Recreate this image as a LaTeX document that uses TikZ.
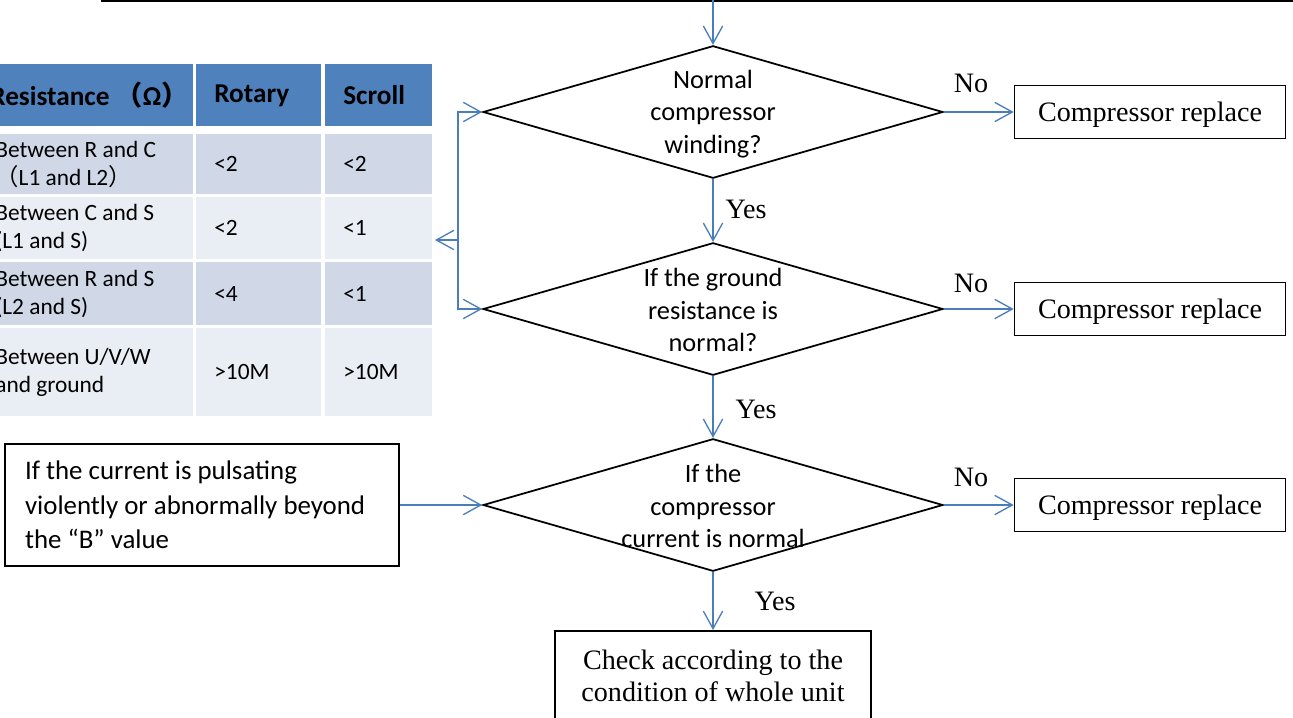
\documentclass[tikz,border=0pt]{standalone}
\usepackage{fontspec}
\setmainfont{Liberation Serif}
\newfontfamily\calibri{Carlito}
\newfontfamily\cjk[Kerning=Off]{Noto Sans CJK SC}
\usepackage{tikz}
\usetikzlibrary{shapes.geometric, arrows.meta, positioning}
\definecolor{flowblue}{RGB}{74,126,187}
\definecolor{headblue}{RGB}{79,129,189}
\definecolor{rowdark}{RGB}{208,216,232}
\definecolor{rowlight}{RGB}{233,237,244}

\begin{document}
\begin{tikzpicture}[x=0.02cm, y=-0.02cm,
  decision/.style={diamond, draw=black, line width=1pt, minimum width=9.2cm, minimum height=2.65cm, inner sep=0pt},
  asktext/.style={align=center, inner sep=0pt, font=\calibri\fontsize{15}{18.6}\selectfont},
  block/.style={rectangle, draw=black, line width=1pt, align=center, font=\fontsize{16}{18.7}\selectfont},
  note/.style={rectangle, draw=black, line width=1pt, align=flush left, inner xsep=0.4cm, text width=7.08cm, minimum height=2.44cm, font=\calibri\fontsize{15.3}{19.6}\selectfont},
  lab/.style={inner sep=0pt, font=\fontsize{16}{18}\selectfont},
  line/.style={draw=flowblue, line width=0.75pt, -{Straight Barb[length=10pt, width=11pt]}},
  cell/.style={anchor=north west, inner xsep=0.36cm, inner ysep=0pt, align=flush left, font=\calibri\fontsize{13.3}{15.8}\selectfont},
  head/.style={cell, fill=headblue, minimum height=1.24cm, font=\calibri\bfseries\fontsize{15.5}{17}\selectfont},
  colA/.style={text width=3.6cm},
  colB/.style={text width=1.78cm},
  colC/.style={text width=1.42cm}]

  \useasboundingbox (0,0) rectangle (1293,717);
  \clip (0,0) rectangle (1293,717);

  % frame edge above and entry point
  \draw[line width=2.4pt] (101,0) -- (1300,0);
  \coordinate (entry) at (713,0);

  % resistance table
  \node[head, colA] (hres) at (-23,64) {\mbox{\hspace{-0.1cm}Resistance {\cjk （}Ω{\cjk ）}}};
  \node[head, colB] (hrot) at (196,64) {Rotary};
  \node[head, colC] (hscr) at (325,64) {Scroll};

  \node[cell, colA, fill=rowdark, minimum height=1.2cm] (rc) at (-23,134) {Between R and C\\{\cjk （}L1 and L2{\cjk ）}};
  \node[cell, colB, fill=rowdark, minimum height=1.2cm] (rcrot) at (196,134) {<2};
  \node[cell, colC, fill=rowdark, minimum height=1.2cm] (rcscr) at (325,134) {<2};

  \node[cell, colA, fill=rowlight, minimum height=1.24cm] (cs) at (-23,197) {Between C and S\\(L1 and S)};
  \node[cell, colB, fill=rowlight, minimum height=1.24cm] (csrot) at (196,197) {<2};
  \node[cell, colC, fill=rowlight, minimum height=1.24cm] (csscr) at (325,197) {<1};

  \node[cell, colA, fill=rowdark, minimum height=1.26cm] (rs) at (-23,262) {Between R and S\\(L2 and S)};
  \node[cell, colB, fill=rowdark, minimum height=1.26cm] (rsrot) at (196,262) {<4};
  \node[cell, colC, fill=rowdark, minimum height=1.26cm] (rsscr) at (325,262) {<1};

  \node[cell, colA, fill=rowlight, minimum height=1.76cm] (uvw) at (-23,328) {Between U/V/W\\and ground};
  \node[cell, colB, fill=rowlight, minimum height=1.76cm] (uvwrot) at (196,328) {>10M};
  \node[cell, colC, fill=rowlight, minimum height=1.76cm] (uvwscr) at (325,328) {>10M};

  % decisions
  \node[decision] (wind) at (713,112) {};
  \node[asktext] (windq) at (713,114) {Normal\\compressor\\winding?};
  \node[decision] (ground) at (713,309) {};
  \node[asktext] (groundq) at (713,310) {If the ground\\resistance is\\normal?};
  \node[decision] (curr) at (713,505) {};
  \node[asktext] (currq) at (713,506) {If the\\compressor\\current is normal};

  % outcomes
  \node[block, text depth=0pt, minimum width=5.42cm, minimum height=1.06cm] (rep1) at (1150,112) {Compressor replace};
  \node[block, text depth=0pt, minimum width=5.42cm, minimum height=1.06cm] (rep2) at (1150,309) {Compressor replace};
  \node[block, text depth=0pt, minimum width=5.42cm, minimum height=1.06cm] (rep3) at (1150,505) {Compressor replace};
  \node[block, anchor=north, minimum width=6.32cm, minimum height=1.8cm] (unit) at (713,630) {Check according to the\\condition of whole unit};
  \node[note] (pulse) at (202,505) {If the current is pulsating\\violently or abnormally beyond\\the “B” value};

  % connectors
  \coordinate (split) at (458,240);
  \coordinate (totab) at (435,240);
  \draw[line] (entry) -- (wind.north);
  \draw[line] (split) |- (wind.west);
  \draw[line] (split) |- (ground.west);
  \draw[line] (split) -- (totab);
  \draw[line] (wind.south) -- (ground.north);
  \draw[line] (ground.south) -- (curr.north);
  \draw[line] (curr.south) -- (unit.north);
  \draw[line] (wind.east) -- (rep1.west);
  \draw[line] (ground.east) -- (rep2.west);
  \draw[line] (curr.east) -- (rep3.west);
  \draw[line] (pulse.east) -- (curr.west);

  % branch labels
  \node[lab] (no1) at (971,83) {No};
  \node[lab] (no2) at (971,283) {No};
  \node[lab] (no3) at (971,477) {No};
  \node[lab] (yes1) at (746,209) {Yes};
  \node[lab] (yes2) at (756,409) {Yes};
  \node[lab] (yes3) at (775,601) {Yes};

\end{tikzpicture}
\end{document}
